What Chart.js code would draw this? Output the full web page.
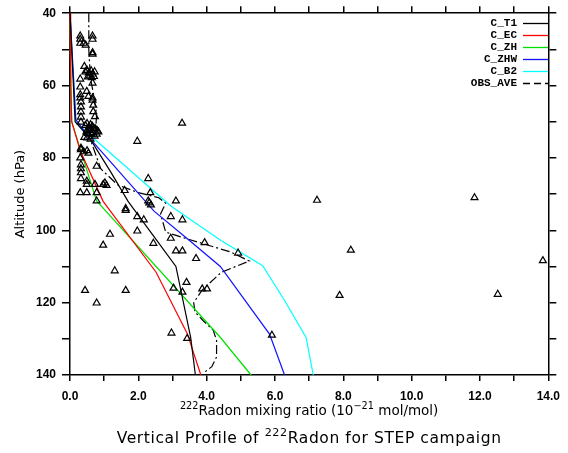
<!DOCTYPE html>
<html>
<head>
<meta charset="utf-8">
<title>Radon vertical profile</title>
<script src="https://cdn.jsdelivr.net/npm/chart.js@4.4.0/dist/chart.umd.min.js"></script>
<style>
  html, body { margin: 0; padding: 0; background: #fff; }
</style>
</head>
<body>
<canvas id="radon" width="568" height="453"></canvas>
<script>
// model profiles: mixing ratio (1e-21 mol/mol) vs pressure (hPa)
const t1Ratio  = [0, 0.15, 0.58, 1.2, 1.7, 2.4, 3.1, 3.53, 3.67];
const t1Pres   = [40, 70, 74.6, 84, 92, 101, 110, 129.5, 140];
const ecRatio  = [0, 0.02, 0.05, 0.3, 0.97, 2.52, 3.43, 3.83];
const ecPres   = [40, 60, 70, 78, 92, 111.6, 128.5, 140];
const zhRatio  = [0, 0.01, 0.05, 0.38, 0.78, 4.39, 5.3];
const zhPres   = [40, 50, 70, 80, 91.9, 129.5, 140];
const zhwRatio = [0, 0.17, 0.58, 2.46, 3.47, 4.40, 5.84, 6.28];
const zhwPres  = [40, 69.4, 74.6, 94.7, 102.6, 110, 128.7, 140];
const b2Ratio  = [0, 0.17, 0.52, 2.95, 4.43, 5.64, 6.28, 6.91, 7.12];
const b2Pres   = [40, 70, 73.2, 93.3, 102.9, 109.8, 119.4, 129.6, 140];

// averaged observations
const aveRatio = [0.55, 0.55, 0.6, 0.7, 0.78, 0.75, 0.6, 0.9, 1.4, 2.0, 2.6, 2.8, 2.65, 2.8, 3.3, 4.0, 4.7, 5.25,
                  4.43, 3.86, 3.62, 3.66, 3.9, 4.19, 4.29, 4.29, 4.15, 3.9];
const avePres  = [40, 50, 58, 63, 68, 72, 75, 83, 87.5, 89.6, 91, 92.5, 95.5, 100.5, 102, 104, 106, 108.5,
                  111.6, 116.6, 120, 122.6, 125, 127.6, 130.4, 135, 137.7, 139.5];

// individual samples
const obsRatio = [
  0.30, 0.30, 0.30, 0.40, 0.46, 0.66, 0.66, 0.66, 0.66, 0.42,
  0.45, 0.50, 0.55, 0.58, 0.62, 0.66, 0.70, 0.72, 0.52, 0.64,
  0.66, 0.30, 0.30, 0.49, 0.30, 0.30, 0.66,
  0.32, 0.32, 0.32, 0.32, 0.32, 0.54, 0.66, 0.68, 0.68, 0.73,
  0.45, 0.50, 0.55, 0.60, 0.65, 0.70, 0.75, 0.80, 0.48, 0.53, 0.58, 0.63, 0.68, 0.72, 0.42, 0.50, 0.60, 0.78, 0.83, 0.55, 0.62,
  0.32, 1.97, 3.28,
  0.32, 0.40, 0.50, 0.54, 0.30, 0.32, 0.32, 0.32, 0.78, 0.32, 0.49, 0.49, 0.73, 0.97, 1.02, 1.07,
  0.30, 0.49, 0.78, 0.78, 1.60, 2.29, 2.35, 2.29,
  1.63, 1.63, 1.97, 2.16, 2.32, 2.37, 3.10, 2.95, 3.29, 1.17, 1.97, 0.97, 2.44, 2.95, 3.10, 3.29,
  3.94, 3.69, 4.92, 1.31, 3.41, 0.44, 1.63, 3.03, 3.29, 3.87, 4.01, 0.78, 2.97, 3.43,
  7.23, 11.84, 8.22, 13.84, 7.89, 12.52, 5.91
];
const obsPres = [
  46.3, 47.2, 48.3, 48.3, 48.8, 46.3, 47.2, 50.9, 51.3, 54.7,
  56.2, 55.8, 56.5, 57.3, 55.9, 56.8, 57.5, 56.2, 57.6, 57.8,
  59.3, 58.2, 60.4, 61.6, 62.5, 63.4, 63.4,
  64.5, 65.9, 67.3, 68.7, 70.1, 63.0, 64.0, 65.4, 67.2, 68.6,
  71.0, 70.5, 71.5, 70.8, 71.2, 71.8, 72.0, 72.5, 72.8, 73.2, 72.4, 73.6, 73.0, 74.0, 74.3, 74.5, 74.8, 73.4, 72.8, 72.3, 71.9,
  77.3, 75.4, 70.4,
  77.7, 78.3, 78.0, 78.7, 80.0, 81.9, 83.0, 84.1, 82.3, 85.7, 86.4, 87.3, 87.3, 87.3, 86.9, 87.6,
  89.6, 89.6, 89.6, 91.9, 89.0, 85.7, 89.6, 91.9,
  94.5, 94.0, 96.2, 97.1, 92.4, 93.0, 91.9, 96.2, 97.1, 101.1, 100.2, 104.1, 103.6, 102.2, 105.7, 105.7,
  103.4, 107.8, 106.3, 111.2, 114.4, 116.6, 116.6, 116.0, 117.1, 116.2, 116.2, 120.1, 128.4, 129.9,
  91.7, 91.0, 105.5, 108.4, 118.0, 117.7, 129.0
];

const modelNames  = ['C_T1', 'C_EC', 'C_ZH', 'C_ZHW', 'C_B2', 'OBS_AVE'];
const modelColors = ['#000000', '#ff0000', '#00e000', '#1010ff', '#00ffff', '#000000'];

function pairs(xs, ys) {
  return xs.map((v, i) => ({ x: v, y: ys[i] }));
}

function profile(i, xs, ys, dash) {
  return {
    label: modelNames[i],
    data: pairs(xs, ys),
    showLine: true,
    borderColor: modelColors[i],
    borderWidth: 1.2,
    borderDash: dash || [],
    pointRadius: 0,
    fill: false,
    clip: false
  };
}

const datasets = [
  {
    label: 'OBS',
    data: pairs(obsRatio, obsPres),
    showLine: false,
    pointStyle: 'triangle',
    pointRadius: 4,
    pointBorderColor: '#000',
    pointBackgroundColor: 'rgba(255,255,255,0)',
    pointBorderWidth: 1.2,
    clip: false
  },
  profile(0, t1Ratio, t1Pres),
  profile(1, ecRatio, ecPres),
  profile(2, zhRatio, zhPres),
  profile(3, zhwRatio, zhwPres),
  profile(4, b2Ratio, b2Pres),
  profile(5, aveRatio, avePres, [9, 3, 2, 3])
];

// text with superscripts, centred on cx
function drawRich(ctx, parts, cx, y, size, family, spacing) {
  ctx.letterSpacing = spacing || '0px';
  let total = 0;
  parts.forEach(p => {
    ctx.font = (p.sup ? size * 0.72 : size) + 'px ' + family;
    total += ctx.measureText(p.t).width;
  });
  let x = cx - total / 2;
  ctx.textAlign = 'left';
  ctx.textBaseline = 'alphabetic';
  parts.forEach(p => {
    ctx.font = (p.sup ? size * 0.72 : size) + 'px ' + family;
    ctx.fillText(p.t, x, p.sup ? y - size * 0.45 : y);
    x += ctx.measureText(p.t).width;
  });
  ctx.letterSpacing = '0px';
}

const decorations = {
  id: 'decorations',
  afterDraw(chart) {
    const ctx = chart.ctx;
    const area = chart.chartArea;
    ctx.save();

    // legend block, upper right
    ctx.font = 'bold 11px "Liberation Mono"';
    ctx.textAlign = 'right';
    ctx.textBaseline = 'middle';
    modelNames.forEach((name, i) => {
      const y = 23 + i * 12;
      ctx.fillStyle = '#000';
      ctx.fillText(name, 517, y);
      ctx.beginPath();
      ctx.strokeStyle = modelColors[i];
      ctx.lineWidth = 1.3;
      ctx.setLineDash(name === 'OBS_AVE' ? [7, 4] : []);
      ctx.moveTo(523, y + 0.5);
      ctx.lineTo(548, y + 0.5);
      ctx.stroke();
    });
    ctx.setLineDash([]);

    // axis titles
    ctx.fillStyle = '#000';
    drawRich(ctx, [
      { t: '222', sup: true },
      { t: 'Radon mixing ratio (10' },
      { t: '\u221221', sup: true },
      { t: ' mol/mol)' }
    ], (area.left + area.right) / 2, 415, 13.5, '"DejaVu Sans"');

    drawRich(ctx, [
      { t: 'Vertical Profile of ' },
      { t: '222', sup: true },
      { t: 'Radon for STEP campaign' }
    ], (area.left + area.right) / 2, 443, 15.5, '"DejaVu Sans"', '0.6px');

    ctx.save();
    ctx.translate(21, (area.top + area.bottom) / 2);
    ctx.rotate(-Math.PI / 2);
    ctx.font = '13px "DejaVu Sans"';
    ctx.textAlign = 'center';
    ctx.textBaseline = 'middle';
    ctx.fillText('Altitude (hPa)', 0, 0);
    ctx.restore();

    ctx.restore();
  }
};

const tickFont = { family: '"Liberation Sans"', size: 12, weight: 'bold' };
const axisLine = { display: true, color: '#000', width: 1.5 };

new Chart(document.getElementById('radon'), {
  type: 'scatter',
  data: { datasets: datasets },
  options: {
    responsive: false,
    animation: false,
    layout: { padding: 0 },
    plugins: { legend: { display: false }, tooltip: { enabled: false } },
    scales: {
      x: {
        type: 'linear', position: 'bottom', min: 0, max: 14,
        border: axisLine,
        grid: { drawOnChartArea: false, color: '#000', lineWidth: 1.5, tickLength: 6 },
        ticks: {
          stepSize: 1, autoSkip: false, maxRotation: 0, padding: 8, color: '#000', font: tickFont,
          callback: v => (v % 2 === 0 ? v.toFixed(1) : '')
        },
        afterFit: s => { s.height = 78; }
      },
      xTop: {
        type: 'linear', position: 'top', min: 0, max: 14,
        border: axisLine,
        grid: { drawOnChartArea: false, color: '#000', lineWidth: 1.5, tickLength: 7 },
        ticks: { stepSize: 1, autoSkip: false, callback: () => '' },
        afterFit: s => { s.height = 11; }
      },
      y: {
        type: 'linear', position: 'left', min: 40, max: 140, reverse: true,
        border: axisLine,
        grid: { drawOnChartArea: false, color: '#000', lineWidth: 1.5, tickLength: 8 },
        ticks: {
          stepSize: 10, autoSkip: false, padding: 6, color: '#000', font: tickFont,
          callback: v => (v % 20 === 0 ? String(v) : '')
        },
        afterFit: s => { s.width = 70; }
      },
      yRight: {
        type: 'linear', position: 'right', min: 40, max: 140, reverse: true,
        border: axisLine,
        grid: { drawOnChartArea: false, color: '#000', lineWidth: 1.5, tickLength: 8 },
        ticks: { stepSize: 10, autoSkip: false, callback: () => '' },
        afterFit: s => { s.width = 14; }
      }
    }
  },
  plugins: [decorations]
});
</script>
</body>
</html>
